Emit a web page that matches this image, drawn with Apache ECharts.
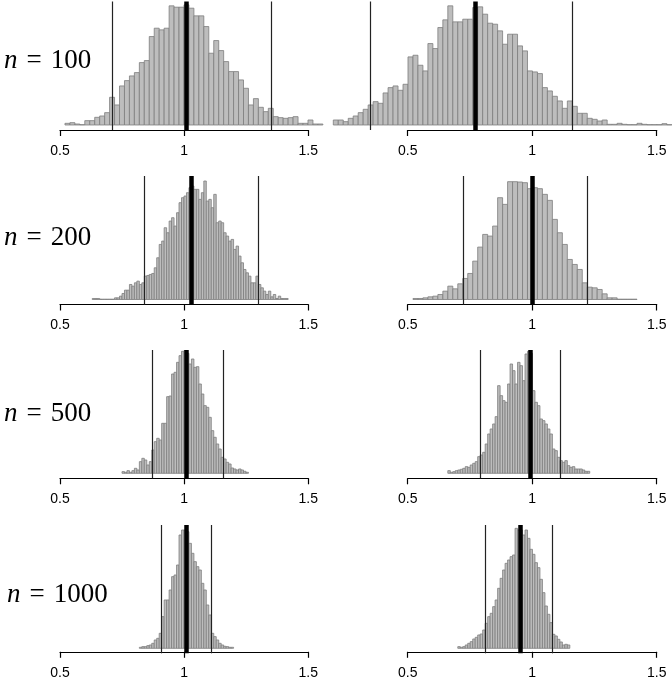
<!DOCTYPE html>
<html><head><meta charset="utf-8">
<script src="https://cdn.jsdelivr.net/npm/echarts@6/dist/echarts.min.js"></script>
<style>html,body{margin:0;padding:0;background:#fff}#c{width:672px;height:679px}</style>
</head><body><div id="c"></div>
<script>
// ---------- data (frequencies in arbitrary units) ----------
const sampleSizes = ['100', '200', '500', '1000'];
const xTicks = [0.5, 1, 1.5];

// n = 100, left
const h100aStart = 0.52, h100aWidth = 0.02;
const h100a = [5,7,3,1,13,13,23,27,37,83,60,117,133,147,157,187,193,265,290,285,290,357,353,353,360,350,327,327,295,215,253,223,190,160,160,135,110,60,79,53,40,50,25,22,20,22,25,5,5,15,3,3];
const lines100a = [0.712, 1.013, 1.347];
// n = 100, right
const h100bStart = 0.20, h100bWidth = 0.02;
const h100b = [15,15,10,20,27,37,47,60,70,65,96,112,117,104,122,204,209,179,162,244,229,292,315,357,309,309,317,317,352,354,332,305,302,282,242,272,272,237,222,162,159,154,112,102,86,72,50,72,56,35,35,20,17,12,15,2,2,5,2,1,1,5,2,1,1,1,4,1];
const lines100b = [0.347, 0.773, 1.164];

// n = 200, left
const h200aStart = 0.63, h200aWidth = 0.01;
const h200a = [3,3,3,1,1,1,1,1,1,5,5,10,18,28,28,45,40,50,55,45,50,70,72,75,78,95,125,165,175,215,200,235,245,220,260,290,305,310,320,335,340,330,330,300,320,355,295,300,275,315,230,235,230,200,190,175,180,150,160,130,110,90,80,70,50,50,70,45,35,25,15,25,8,15,3,10,3,3,3];
const lines200a = [0.836, 1.033, 1.296];
// n = 200, right
const h200bStart = 0.52, h200bWidth = 0.02;
const h200b = [3,3,5,8,10,15,25,40,32,47,63,78,115,157,195,190,220,305,285,353,353,352,350,332,335,332,315,297,240,200,165,120,105,90,50,37,35,30,17,5,5,1,1,1,1];
const lines200b = [0.722, 1.004, 1.22];

// n = 500, left
const h500aStart = 0.75, h500aWidth = 0.01;
const h500a = [5,3,8,3,8,15,10,35,45,40,25,35,70,95,105,100,150,150,230,232,298,303,333,353,366,368,360,328,343,318,320,268,238,203,198,168,128,108,88,73,48,43,33,28,16,13,10,13,10,6,3];
const lines500a = [0.867, 1.009, 1.155];
// n = 500, right
const h500bStart = 0.66, h500bWidth = 0.01;
const h500b = [8,3,5,8,10,12,15,20,18,25,30,35,50,55,63,88,118,133,148,170,263,233,218,213,268,328,308,268,333,323,278,358,366,360,248,213,203,163,158,148,133,118,73,68,48,38,33,38,23,18,20,13,13,13,10,6,6];
const lines500b = [0.792, 0.993, 1.113];

// n = 1000, left
const h1000aStart = 0.82, h1000aWidth = 0.01;
const h1000a = [3,5,5,8,10,15,25,30,45,95,145,145,175,215,220,250,340,355,355,350,315,285,260,245,235,195,175,130,100,45,35,25,15,10,6,5,3,3];
const lines1000a = [0.913, 1.012, 1.114];
// n = 1000, right
const h1000bStart = 0.70, h1000bWidth = 0.01;
const h1000b = [5,3,5,10,15,20,28,33,40,43,55,75,95,105,125,145,180,210,235,255,265,275,280,360,355,355,340,355,330,297,282,257,242,207,167,127,102,77,42,37,27,19,10,12,10];
const lines1000b = [0.805, 0.954, 1.08];

// ---------- layout ----------
const panels = [
  [{start:h100aStart, width:h100aWidth, h:h100a, lines:lines100a}, {start:h100bStart, width:h100bWidth, h:h100b, lines:lines100b}],
  [{start:h200aStart, width:h200aWidth, h:h200a, lines:lines200a}, {start:h200bStart, width:h200bWidth, h:h200b, lines:lines200b}],
  [{start:h500aStart, width:h500aWidth, h:h500a, lines:lines500a}, {start:h500bStart, width:h500bWidth, h:h500b, lines:lines500b}],
  [{start:h1000aStart, width:h1000aWidth, h:h1000a, lines:lines1000a}, {start:h1000bStart, width:h1000bWidth, h:h1000b, lines:lines1000b}]
];
const rowTop = [1.5, 176, 350, 525];
const axisY = [130, 304.5, 478.3, 653.3];
const labelTop = [47, 224, 400, 581];
const labelLeft = [4, 4, 4, 7];
const colData = [{left:0.48, width:332.3, min:0.26, max:1.6}, {left:333.3, width:338.6, min:0.2, max:1.56}];
const colAxis = [{left:60, width:248.3}, {left:407.7, width:249}];
const Y_MIN = -15, Y_MAX = 370;

const grids = [], xAxes = [], yAxes = [], series = [], titles = [];
let gi = 0;
function renderItem(params, api) {
  const p0 = api.coord([api.value(0), 0]);
  const p1 = api.coord([api.value(1), api.value(2)]);
  return {type:'rect', shape:{x:p0[0], y:p1[1], width:p1[0]-p0[0], height:p0[1]-p1[1]},
          style:{fill:'#bdbdbd', stroke:'#7d7d7d', lineWidth:0.8}};
}
for (let r = 0; r < 4; r++) {
  titles.push({text:'{i|n}\u2004=\u2004' + sampleSizes[r], left:labelLeft[r], top:labelTop[r], padding:0,
    textStyle:{fontFamily:'Liberation Serif', fontSize:27, fontWeight:'normal', color:'#000',
      rich:{i:{fontStyle:'italic', fontFamily:'Liberation Serif', fontSize:27, color:'#000'}}}});
  for (let c = 0; c < 2; c++) {
    const p = panels[r][c];
    // data grid
    grids.push({left:colData[c].left, width:colData[c].width, top:rowTop[r], height:axisY[r]-rowTop[r]});
    xAxes.push({gridIndex:gi, type:'value', min:colData[c].min, max:colData[c].max, show:false});
    yAxes.push({gridIndex:gi, type:'value', min:Y_MIN, max:Y_MAX, show:false});
    const data = p.h.map((v, i) => [p.start + i*p.width, p.start + (i+1)*p.width, v]);
    series.push({type:'custom', xAxisIndex:gi, yAxisIndex:gi, renderItem, data, encode:{x:[0,1], y:2}, silent:true,
      markLine:{silent:true, symbol:['none','none'], label:{show:false}, animation:false,
        data:[
          {xAxis:p.lines[0], lineStyle:{color:'#222', width:1.2, type:'solid'}},
          {xAxis:p.lines[1], lineStyle:{color:'#000', width:4.5, type:'solid'}},
          {xAxis:p.lines[2], lineStyle:{color:'#222', width:1.2, type:'solid'}}
        ]}});
    gi++;
    // axis grid (line spans 0.5..1.5 only)
    grids.push({left:colAxis[c].left, width:colAxis[c].width, top:axisY[r]-2, height:2});
    xAxes.push({gridIndex:gi, type:'value', min:xTicks[0], max:xTicks[xTicks.length-1], interval:xTicks[1]-xTicks[0],
      position:'bottom', splitLine:{show:false},
      axisLine:{show:true, lineStyle:{color:'#000', width:1.2}},
      axisTick:{show:true, length:6, inside:false, lineStyle:{color:'#000', width:1.2}},
      axisLabel:{show:true, margin:14, color:'#000', fontSize:14, fontFamily:'Liberation Sans', showMinLabel:true, showMaxLabel:true}});
    yAxes.push({gridIndex:gi, type:'value', show:false});
    gi++;
  }
}
const chart = echarts.init(document.getElementById('c'), null, {renderer:'canvas'});
chart.setOption({animation:false, backgroundColor:'#fff', title:titles, grid:grids, xAxis:xAxes, yAxis:yAxes, series});
</script></body></html>
